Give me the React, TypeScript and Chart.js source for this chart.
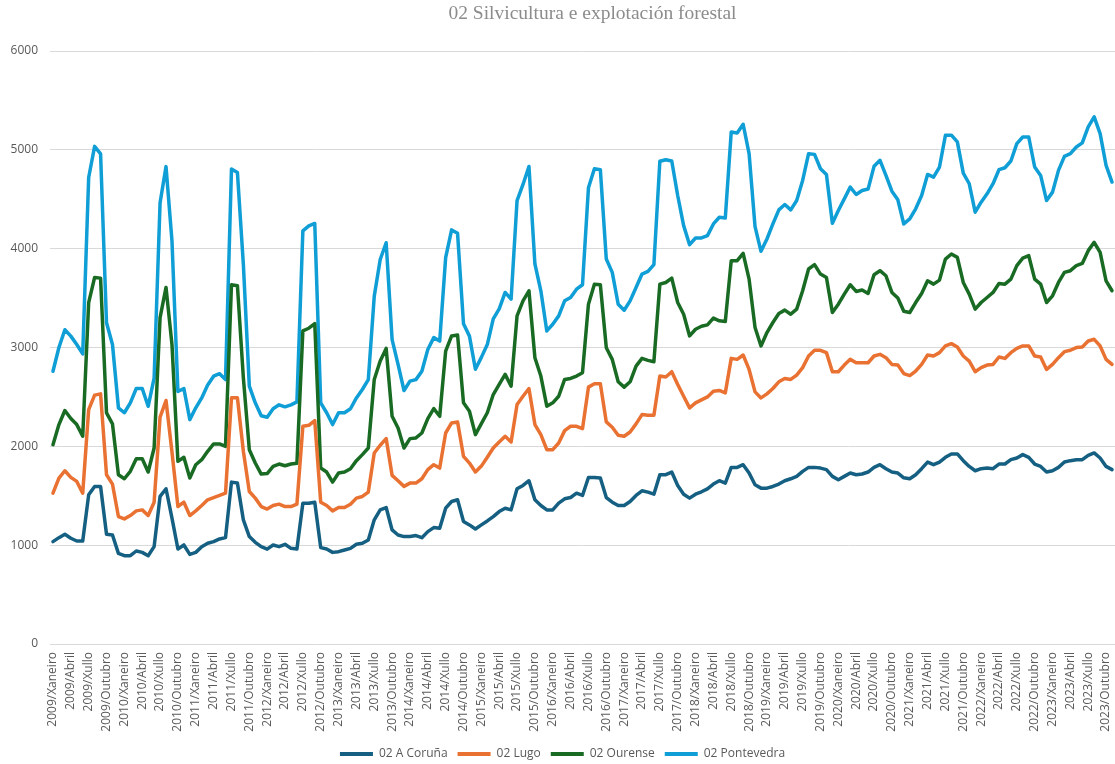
import React, { useEffect, useRef } from 'react';
import { Chart, registerables } from 'chart.js';

Chart.register(...registerables);

const years = [2009, 2010, 2011, 2012, 2013, 2014, 2015, 2016, 2017, 2018, 2019, 2020, 2021, 2022, 2023];
const months = ['Xaneiro', 'Febreiro', 'Marzo', 'Abril', 'Maio', 'Xuño', 'Xullo', 'Agosto', 'Setembro', 'Outubro', 'Novembro', 'Decembro'];
const pointCount = 179;
const categories = years.flatMap((y) => months.map((m) => `${y}/${m}`)).slice(0, pointCount);

const chartTitle = '02 Silvicultura e explotación forestal';
const seriesNames = ['02 A Coruña', '02 Lugo', '02 Ourense', '02 Pontevedra'];

const aCoruna = [
  1036, 1076, 1110, 1070, 1042, 1042, 1509, 1594, 1594, 1110, 1103, 917,
  893, 893, 941, 927, 893, 985, 1493, 1571, 1273, 961, 1002, 907,
  927, 985, 1019, 1036, 1063, 1076, 1638, 1628, 1256, 1087, 1029, 985,
  960, 1002, 985, 1009, 968, 961, 1425, 1425, 1435, 975, 961, 927,
  934, 951, 968, 1009, 1019, 1053, 1256, 1357, 1381, 1154, 1103, 1087,
  1087, 1097, 1076, 1137, 1178, 1171, 1374, 1442, 1459, 1239, 1205, 1164,
  1205, 1245, 1289, 1340, 1374, 1357, 1570, 1604, 1652, 1459, 1401, 1357,
  1357, 1425, 1469, 1482, 1526, 1503, 1685, 1685, 1679, 1482, 1435, 1401,
  1401, 1442, 1503, 1550, 1537, 1516, 1713, 1713, 1740, 1604, 1516, 1476,
  1516, 1540, 1570, 1618, 1652, 1628, 1787, 1787, 1814, 1730, 1611, 1577,
  1577, 1594, 1618, 1652, 1672, 1696, 1747, 1787, 1787, 1780, 1764, 1696,
  1662, 1696, 1730, 1713, 1720, 1740, 1787, 1814, 1774, 1740, 1730, 1682,
  1672, 1713, 1774, 1841, 1814, 1841, 1889, 1923, 1923, 1855, 1797, 1753,
  1774, 1780, 1774, 1821, 1821, 1865, 1882, 1916, 1889, 1821, 1797, 1740,
  1753, 1787, 1841, 1855, 1865, 1865, 1909, 1933, 1882, 1797, 1764,
];

const lugo = [
  1526, 1679, 1753, 1686, 1645, 1526, 2372, 2518, 2531, 1713, 1618, 1290,
  1266, 1300, 1347, 1357, 1300, 1435, 2295, 2464, 1943, 1391, 1435, 1300,
  1347, 1401, 1459, 1482, 1503, 1526, 2491, 2491, 1950, 1543, 1476, 1391,
  1365, 1401, 1415, 1391, 1391, 1415, 2203, 2213, 2261, 1435, 1401, 1347,
  1381, 1381, 1415, 1476, 1493, 1537, 1933, 2011, 2078, 1706, 1652, 1595,
  1628, 1628, 1672, 1764, 1814, 1780, 2135, 2237, 2247, 1899, 1831, 1740,
  1800, 1890, 1983, 2044, 2102, 2044, 2423, 2507, 2585, 2220, 2118, 1966,
  1966, 2034, 2159, 2203, 2203, 2179, 2599, 2633, 2633, 2247, 2193, 2112,
  2102, 2145, 2227, 2321, 2314, 2314, 2711, 2701, 2755, 2626, 2507, 2389,
  2440, 2470, 2500, 2558, 2565, 2541, 2890, 2880, 2924, 2778, 2551, 2490,
  2531, 2585, 2653, 2687, 2677, 2721, 2796, 2914, 2972, 2972, 2948, 2755,
  2755, 2822, 2880, 2846, 2846, 2846, 2914, 2931, 2897, 2829, 2822, 2736,
  2716, 2762, 2829, 2924, 2914, 2948, 3016, 3039, 3005, 2914, 2863, 2755,
  2796, 2822, 2829, 2904, 2890, 2948, 2992, 3016, 3016, 2914, 2904, 2778,
  2829, 2897, 2958, 2972, 2999, 3005, 3066, 3083, 3016, 2880, 2829,
];

const ourense = [
  2017, 2220, 2362, 2281, 2220, 2102, 3455, 3709, 3702, 2338, 2227, 1713,
  1672, 1747, 1875, 1875, 1740, 1983, 3303, 3608, 3032, 1848, 1889, 1679,
  1814, 1865, 1950, 2024, 2024, 2000, 3635, 3625, 2693, 1966, 1831, 1719,
  1725, 1797, 1821, 1804, 1821, 1828, 3168, 3195, 3242, 1780, 1740, 1638,
  1730, 1740, 1774, 1855, 1916, 1983, 2677, 2863, 2991, 2304, 2186, 1983,
  2078, 2085, 2135, 2281, 2382, 2304, 2964, 3117, 3127, 2440, 2355, 2118,
  2230, 2340, 2524, 2626, 2728, 2609, 3320, 3472, 3574, 2897, 2711, 2406,
  2440, 2507, 2677, 2687, 2711, 2745, 3438, 3641, 3635, 2998, 2880, 2653,
  2599, 2653, 2812, 2890, 2870, 2856, 3641, 3658, 3702, 3455, 3337, 3117,
  3185, 3215, 3229, 3297, 3270, 3263, 3879, 3879, 3953, 3692, 3202, 3016,
  3151, 3253, 3344, 3378, 3337, 3388, 3574, 3794, 3838, 3743, 3709, 3354,
  3438, 3540, 3635, 3567, 3581, 3547, 3736, 3777, 3726, 3557, 3500, 3367,
  3354, 3455, 3547, 3675, 3641, 3682, 3895, 3946, 3912, 3658, 3540, 3388,
  3455, 3506, 3557, 3648, 3641, 3692, 3828, 3905, 3929, 3692, 3641, 3455,
  3523, 3658, 3760, 3777, 3828, 3851, 3980, 4064, 3963, 3675, 3574,
];

const pontevedra = [
  2760, 3000, 3180, 3115, 3030, 2935, 4720, 5035, 4960, 3250, 3030, 2390,
  2340, 2440, 2585, 2585, 2405, 2690, 4465, 4830, 4080, 2555, 2585, 2270,
  2390, 2490, 2620, 2710, 2735, 2675, 4805, 4770, 3840, 2610, 2440, 2310,
  2295, 2380, 2420, 2400, 2420, 2450, 4180, 4230, 4255, 2440, 2340, 2220,
  2340, 2340, 2380, 2490, 2575, 2675, 3520, 3890, 4060, 3080, 2830, 2565,
  2660, 2675, 2760, 2980, 3100, 3065, 3910, 4190, 4155, 3240, 3115, 2780,
  2900, 3030, 3290, 3390, 3557, 3490, 4487, 4650, 4832, 3845, 3574, 3168,
  3235, 3320, 3472, 3506, 3590, 3635, 4616, 4809, 4799, 3895, 3760, 3438,
  3377, 3472, 3607, 3743, 3770, 3838, 4884, 4900, 4887, 4538, 4233, 4040,
  4108, 4108, 4132, 4250, 4318, 4311, 5181, 5171, 5259, 4961, 4223, 3973,
  4098, 4250, 4393, 4447, 4393, 4487, 4690, 4961, 4954, 4809, 4751, 4257,
  4386, 4504, 4623, 4548, 4589, 4603, 4833, 4894, 4741, 4582, 4494, 4250,
  4301, 4403, 4538, 4751, 4724, 4826, 5148, 5148, 5080, 4765, 4657, 4369,
  4470, 4555, 4657, 4799, 4819, 4887, 5063, 5130, 5130, 4826, 4741, 4487,
  4572, 4792, 4934, 4961, 5029, 5070, 5232, 5334, 5164, 4843, 4674,
];

const yTicks = [0, 1000, 2000, 3000, 4000, 5000, 6000];

const seriesValues = [aCoruna, lugo, ourense, pontevedra];
const seriesColors = ['#156082', '#E97132', '#196B24', '#0F9ED5'];

const FONT = "'Open Sans', 'Noto Sans', sans-serif";
const TEXT_COLOR = '#595959';

export default function App() {
  const canvasRef = useRef<HTMLCanvasElement | null>(null);

  useEffect(() => {
    if (!canvasRef.current) return;
    const chart = new Chart(canvasRef.current, {
      type: 'line',
      data: {
        labels: categories,
        datasets: seriesNames.map((name, k) => ({
          label: name,
          data: seriesValues[k],
          borderColor: seriesColors[k],
          backgroundColor: seriesColors[k],
          borderWidth: 3.5,
          pointRadius: 0,
          pointHoverRadius: 0,
          tension: 0,
          borderJoinStyle: 'round' as const,
          borderCapStyle: 'round' as const,
          fill: false,
        })),
      },
      options: {
        animation: false,
        responsive: true,
        maintainAspectRatio: false,
        layout: { padding: { top: 51, left: 10, right: 0, bottom: -6 } },
        plugins: {
          title: { display: false },
          tooltip: { enabled: false },
          legend: {
            display: true,
            position: 'bottom',
            labels: {
              boxWidth: 33,
              boxHeight: 4,
              padding: 10,
              color: TEXT_COLOR,
              font: { family: FONT, size: 12 },
              generateLabels: (c: any) =>
                Chart.defaults.plugins.legend.labels.generateLabels(c).map((l: any) => ({ ...l, lineWidth: 0 })),
            },
          },
        },
        scales: {
          x: {
            type: 'category',
            offset: true,
            grid: { display: false, drawTicks: false },
            border: { display: false },
            afterFit: (axis: any) => {
              axis.height = 94;
              axis.paddingLeft = 0;
              axis.paddingRight = 0;
            },
            ticks: {
              autoSkip: false,
              maxRotation: 90,
              minRotation: 90,
              padding: 8,
              color: TEXT_COLOR,
              font: { family: FONT, size: 12 },
              callback: (_v: any, i: number) => (i % 3 === 0 ? categories[i] : null),
            },
          },
          y: {
            min: yTicks[0],
            max: yTicks[yTicks.length - 1],
            afterBuildTicks: (axis: any) => {
              axis.ticks = yTicks.map((v) => ({ value: v }));
            },
            afterFit: (axis: any) => {
              axis.width = 40;
            },
            grid: { color: '#d9d9d9', lineWidth: 1, drawTicks: false },
            border: { display: false },
            ticks: {
              padding: 12,
              color: TEXT_COLOR,
              font: { family: FONT, size: 12 },
              callback: (v: any) => String(v),
            },
          },
        },
      },
    });
    return () => chart.destroy();
  }, []);

  return (
    <div style={{ position: 'fixed', left: 0, top: 0, width: 1115, height: 764, background: '#fff' }}>
      <div
        style={{
          position: 'absolute',
          top: 2,
          left: 0,
          width: 1115,
          textAlign: 'center',
          paddingLeft: 70,
          boxSizing: 'border-box',
          fontFamily: "'Liberation Serif', 'DejaVu Serif', serif",
          fontSize: 19.5,
          color: '#8c8c8c',
          whiteSpace: 'nowrap',
        }}
      >
        {chartTitle}
      </div>
      <canvas ref={canvasRef} style={{ width: '1115px', height: '764px' }} />
    </div>
  );
}
